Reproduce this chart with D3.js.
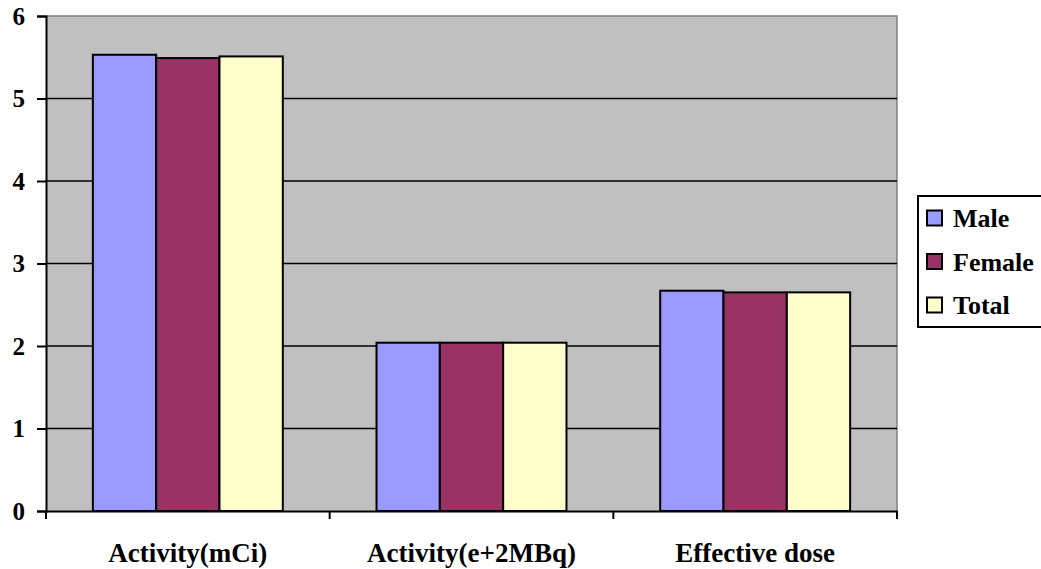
<!DOCTYPE html>
<html>
<head>
<meta charset="utf-8">
<script src="https://cdn.jsdelivr.net/npm/d3@7"></script>
<style>
  html, body { margin: 0; padding: 0; background: #fff; }
  svg { display: block; }
</style>
</head>
<body>
<svg id="chart" width="1041" height="569"></svg>
<script>
// Categories, series and axis ticks
const categories = ["Activity(mCi)", "Activity(e+2MBq)", "Effective dose"];
const seriesNames = ["Male", "Female", "Total"];
const maleValues = [5.53, 2.04, 2.67];
const femaleValues = [5.49, 2.04, 2.65];
const totalValues = [5.51, 2.04, 2.65];
const yTicks = [0, 1, 2, 3, 4, 5, 6];
const seriesColors = ["#9999FF", "#993366", "#FFFFCC"];

const FONT = "Liberation Serif";

const seriesValues = [maleValues, femaleValues, totalValues];
const rows = categories.map((c, i) => ({
  category: c,
  values: seriesNames.map((s, j) => ({ series: s, value: seriesValues[j][i] }))
}));

const svg = d3.select("#chart");
const plot = { left: 46, right: 897, top: 16, bottom: 511 };

const x = d3.scaleBand().domain(categories).range([plot.left, plot.right]).paddingInner(0).paddingOuter(0);
const xInner = d3.scaleBand().domain(seriesNames).range([0, x.bandwidth()]).paddingInner(0).paddingOuter(0.74);
const y = d3.scaleLinear().domain([0, 6]).range([plot.bottom, plot.top]);
const color = d3.scaleOrdinal().domain(seriesNames).range(seriesColors);

// Plot area background
svg.append("rect")
  .attr("x", plot.left).attr("y", plot.top)
  .attr("width", plot.right - plot.left).attr("height", plot.bottom - plot.top)
  .attr("fill", "#C0C0C0");

// Top and right frame
svg.append("path")
  .attr("d", `M${plot.left},${plot.top}H${plot.right}V${plot.bottom}`)
  .attr("fill", "none").attr("stroke", "#808080").attr("stroke-width", 1.5);

// Horizontal gridlines
svg.append("g").selectAll("line")
  .data(yTicks.filter(t => t > 0 && t < 6))
  .join("line")
  .attr("x1", plot.left).attr("x2", plot.right)
  .attr("y1", d => y(d)).attr("y2", d => y(d))
  .attr("stroke", "#000").attr("stroke-width", 1.5);

// Bars
const groups = svg.append("g").selectAll("g")
  .data(rows)
  .join("g")
  .attr("transform", d => `translate(${x(d.category)},0)`);

groups.selectAll("rect")
  .data(d => d.values)
  .join("rect")
  .attr("x", d => xInner(d.series))
  .attr("y", d => y(d.value))
  .attr("width", xInner.bandwidth())
  .attr("height", d => y(0) - y(d.value))
  .attr("fill", d => color(d.series))
  .attr("stroke", "#000")
  .attr("stroke-width", 2);

// Y axis
const yAxis = svg.append("g")
  .attr("transform", `translate(${plot.left},0)`)
  .call(d3.axisLeft(y).tickValues(yTicks).tickFormat(d3.format("d")).tickSize(9).tickPadding(12));
yAxis.attr("font-family", FONT).attr("font-weight", "bold").attr("font-size", 25);
yAxis.select(".domain").attr("stroke", "#000").attr("stroke-width", 2);
yAxis.selectAll(".tick line").attr("stroke", "#000").attr("stroke-width", 2);
yAxis.selectAll(".tick text").attr("fill", "#000");

// X axis with ticks at category boundaries
const xAxis = svg.append("g")
  .attr("transform", `translate(0,${plot.bottom})`)
  .call(d3.axisBottom(x).tickSize(0).tickPadding(32));
xAxis.attr("font-family", FONT).attr("font-weight", "bold").attr("font-size", 27);
xAxis.select(".domain").attr("stroke", "#000").attr("stroke-width", 2);
xAxis.selectAll(".tick text").attr("fill", "#000");

const boundaries = categories.map(c => x(c)).concat([x(categories[categories.length - 1]) + x.bandwidth()]);
xAxis.selectAll(".boundary")
  .data(boundaries)
  .join("line")
  .attr("class", "boundary")
  .attr("x1", d => d).attr("x2", d => d)
  .attr("y1", 0).attr("y2", 8)
  .attr("stroke", "#000").attr("stroke-width", 2);

// Legend
const legend = svg.append("g").attr("transform", "translate(918,196)")
  .attr("font-family", FONT).attr("font-weight", "bold").attr("font-size", 26);
legend.append("rect")
  .attr("x", 0).attr("y", 0).attr("width", 130).attr("height", 131)
  .attr("fill", "#fff").attr("stroke", "#000").attr("stroke-width", 2);

const items = legend.selectAll(".item")
  .data(seriesNames)
  .join("g")
  .attr("class", "item")
  .attr("transform", (d, i) => `translate(0,${22 + i * 43.5})`);

items.append("rect")
  .attr("x", 9).attr("y", -7.5).attr("width", 15).attr("height", 15)
  .attr("fill", d => color(d)).attr("stroke", "#000").attr("stroke-width", 2);

items.append("text")
  .attr("x", 35).attr("y", 9)
  .attr("fill", "#000")
  .text(d => d);
</script>
</body>
</html>
